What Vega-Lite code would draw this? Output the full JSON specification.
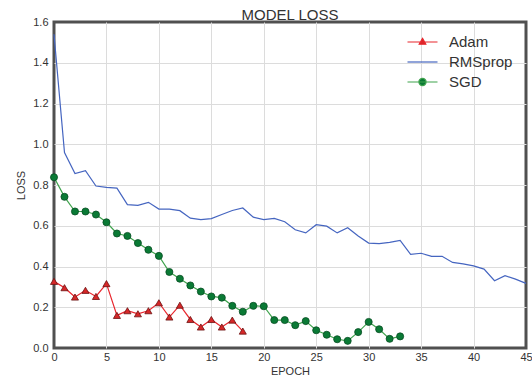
{
  "$schema": "https://vega.github.io/schema/vega-lite/v6.json",
  "width": 472,
  "height": 326,
  "autosize": {"type": "none"},
  "padding": {"left": 54, "top": 22, "right": 6, "bottom": 30},
  "background": "white",
  "view": {"stroke": "#505050", "strokeWidth": 3},
  "title": {"text": "MODEL LOSS", "fontSize": 15, "fontWeight": "normal", "color": "#333333", "font": "Liberation Sans", "offset": -7},
  "config": {
    "axis": {"domain": false, "ticks": false, "gridWidth": 1, "labelColor": "#333333", "labelFontSize": 11, "labelFont": "Liberation Sans", "titleFont": "Liberation Sans", "titleFontSize": 11, "titleFontWeight": "normal", "titleColor": "#333333"}
  },
  "datasets": {
    "loss": [
      {"epoch": 0, "opt": "Adam", "loss": 0.327}, {"epoch": 1, "opt": "Adam", "loss": 0.296}, {"epoch": 2, "opt": "Adam", "loss": 0.25}, {"epoch": 3, "opt": "Adam", "loss": 0.283}, {"epoch": 4, "opt": "Adam", "loss": 0.253}, {"epoch": 5, "opt": "Adam", "loss": 0.316}, {"epoch": 6, "opt": "Adam", "loss": 0.16}, {"epoch": 7, "opt": "Adam", "loss": 0.183}, {"epoch": 8, "opt": "Adam", "loss": 0.168}, {"epoch": 9, "opt": "Adam", "loss": 0.183}, {"epoch": 10, "opt": "Adam", "loss": 0.222}, {"epoch": 11, "opt": "Adam", "loss": 0.152}, {"epoch": 12, "opt": "Adam", "loss": 0.21}, {"epoch": 13, "opt": "Adam", "loss": 0.14}, {"epoch": 14, "opt": "Adam", "loss": 0.103}, {"epoch": 15, "opt": "Adam", "loss": 0.14}, {"epoch": 16, "opt": "Adam", "loss": 0.103}, {"epoch": 17, "opt": "Adam", "loss": 0.137}, {"epoch": 18, "opt": "Adam", "loss": 0.083},
      {"epoch": 0, "opt": "RMSprop", "loss": 1.54}, {"epoch": 1, "opt": "RMSprop", "loss": 0.959}, {"epoch": 2, "opt": "RMSprop", "loss": 0.856}, {"epoch": 3, "opt": "RMSprop", "loss": 0.87}, {"epoch": 4, "opt": "RMSprop", "loss": 0.795}, {"epoch": 5, "opt": "RMSprop", "loss": 0.788}, {"epoch": 6, "opt": "RMSprop", "loss": 0.785}, {"epoch": 7, "opt": "RMSprop", "loss": 0.704}, {"epoch": 8, "opt": "RMSprop", "loss": 0.7}, {"epoch": 9, "opt": "RMSprop", "loss": 0.715}, {"epoch": 10, "opt": "RMSprop", "loss": 0.682}, {"epoch": 11, "opt": "RMSprop", "loss": 0.682}, {"epoch": 12, "opt": "RMSprop", "loss": 0.674}, {"epoch": 13, "opt": "RMSprop", "loss": 0.637}, {"epoch": 14, "opt": "RMSprop", "loss": 0.63}, {"epoch": 15, "opt": "RMSprop", "loss": 0.635}, {"epoch": 16, "opt": "RMSprop", "loss": 0.655}, {"epoch": 17, "opt": "RMSprop", "loss": 0.675}, {"epoch": 18, "opt": "RMSprop", "loss": 0.687}, {"epoch": 19, "opt": "RMSprop", "loss": 0.642}, {"epoch": 20, "opt": "RMSprop", "loss": 0.63}, {"epoch": 21, "opt": "RMSprop", "loss": 0.636}, {"epoch": 22, "opt": "RMSprop", "loss": 0.62}, {"epoch": 23, "opt": "RMSprop", "loss": 0.58}, {"epoch": 24, "opt": "RMSprop", "loss": 0.565}, {"epoch": 25, "opt": "RMSprop", "loss": 0.605}, {"epoch": 26, "opt": "RMSprop", "loss": 0.598}, {"epoch": 27, "opt": "RMSprop", "loss": 0.565}, {"epoch": 28, "opt": "RMSprop", "loss": 0.59}, {"epoch": 29, "opt": "RMSprop", "loss": 0.55}, {"epoch": 30, "opt": "RMSprop", "loss": 0.515}, {"epoch": 31, "opt": "RMSprop", "loss": 0.512}, {"epoch": 32, "opt": "RMSprop", "loss": 0.518}, {"epoch": 33, "opt": "RMSprop", "loss": 0.528}, {"epoch": 34, "opt": "RMSprop", "loss": 0.46}, {"epoch": 35, "opt": "RMSprop", "loss": 0.465}, {"epoch": 36, "opt": "RMSprop", "loss": 0.45}, {"epoch": 37, "opt": "RMSprop", "loss": 0.45}, {"epoch": 38, "opt": "RMSprop", "loss": 0.42}, {"epoch": 39, "opt": "RMSprop", "loss": 0.413}, {"epoch": 40, "opt": "RMSprop", "loss": 0.403}, {"epoch": 41, "opt": "RMSprop", "loss": 0.387}, {"epoch": 42, "opt": "RMSprop", "loss": 0.33}, {"epoch": 43, "opt": "RMSprop", "loss": 0.355}, {"epoch": 44, "opt": "RMSprop", "loss": 0.338}, {"epoch": 45, "opt": "RMSprop", "loss": 0.317},
      {"epoch": 0, "opt": "SGD", "loss": 0.838}, {"epoch": 1, "opt": "SGD", "loss": 0.742}, {"epoch": 2, "opt": "SGD", "loss": 0.67}, {"epoch": 3, "opt": "SGD", "loss": 0.67}, {"epoch": 4, "opt": "SGD", "loss": 0.655}, {"epoch": 5, "opt": "SGD", "loss": 0.617}, {"epoch": 6, "opt": "SGD", "loss": 0.562}, {"epoch": 7, "opt": "SGD", "loss": 0.55}, {"epoch": 8, "opt": "SGD", "loss": 0.515}, {"epoch": 9, "opt": "SGD", "loss": 0.482}, {"epoch": 10, "opt": "SGD", "loss": 0.452}, {"epoch": 11, "opt": "SGD", "loss": 0.373}, {"epoch": 12, "opt": "SGD", "loss": 0.34}, {"epoch": 13, "opt": "SGD", "loss": 0.307}, {"epoch": 14, "opt": "SGD", "loss": 0.277}, {"epoch": 15, "opt": "SGD", "loss": 0.253}, {"epoch": 16, "opt": "SGD", "loss": 0.247}, {"epoch": 17, "opt": "SGD", "loss": 0.207}, {"epoch": 18, "opt": "SGD", "loss": 0.178}, {"epoch": 19, "opt": "SGD", "loss": 0.207}, {"epoch": 20, "opt": "SGD", "loss": 0.205}, {"epoch": 21, "opt": "SGD", "loss": 0.137}, {"epoch": 22, "opt": "SGD", "loss": 0.137}, {"epoch": 23, "opt": "SGD", "loss": 0.112}, {"epoch": 24, "opt": "SGD", "loss": 0.132}, {"epoch": 25, "opt": "SGD", "loss": 0.087}, {"epoch": 26, "opt": "SGD", "loss": 0.065}, {"epoch": 27, "opt": "SGD", "loss": 0.043}, {"epoch": 28, "opt": "SGD", "loss": 0.035}, {"epoch": 29, "opt": "SGD", "loss": 0.078}, {"epoch": 30, "opt": "SGD", "loss": 0.128}, {"epoch": 31, "opt": "SGD", "loss": 0.092}, {"epoch": 32, "opt": "SGD", "loss": 0.045}, {"epoch": 33, "opt": "SGD", "loss": 0.057}
    ]
  },
  "data": {"name": "loss"},
  "encoding": {
    "x": {"field": "epoch", "type": "quantitative", "title": "EPOCH", "scale": {"domain": [0, 45], "nice": false}, "axis": {"values": [0, 5, 10, 15, 20, 25, 30, 35, 40, 45], "labelFlush": false, "labelPadding": 3, "titlePadding": 3, "gridColor": {"condition": {"test": "datum.value <= 0 || datum.value >= 45", "value": "transparent"}, "value": "#dcdcdc"}}},
    "y": {"field": "loss", "type": "quantitative", "title": "LOSS", "scale": {"domain": [0, 1.6], "nice": false}, "axis": {"values": [0, 0.2, 0.4, 0.6, 0.8, 1.0, 1.2, 1.4, 1.6], "format": ".1f", "labelPadding": 6, "titlePadding": 6, "gridColor": {"condition": {"test": "datum.value <= 0 || datum.value >= 1.59", "value": "transparent"}, "value": "#dcdcdc"}}}
  },
  "layer": [
    {
      "mark": {"type": "line", "strokeWidth": 1.2},
      "encoding": {
        "color": {
          "field": "opt", "type": "nominal",
          "scale": {"domain": ["Adam", "RMSprop", "SGD"], "range": ["#e8262d", "#4565c0", "#3fa34d"]},
          "legend": {
            "title": null, "orient": "none", "legendX": 351, "legendY": 12.5,
            "symbolSize": 100, "symbolOffset": 10, "labelOffset": 19, "rowPadding": 4,
            "labelFontSize": 15, "labelFont": "Liberation Sans", "labelColor": "#333333",
            "symbolStrokeWidth": 1.2,
            "encode": {
              "symbols": {
                "update": {
                  "shape": {"signal": "datum.value === 'Adam' ? 'M-3,0H3M0,-0.72L0.66,0.45L-0.66,0.45Z' : datum.value === 'SGD' ? 'M-3,0H3M0.72,0A0.72,0.72 0 1 1 -0.72,0A0.72,0.72 0 1 1 0.72,0Z' : 'M-3,0H3'"},
                  "fill": {"signal": "datum.value === 'Adam' ? '#d62728' : datum.value === 'SGD' ? '#0a7a35' : 'transparent'"},
                  "stroke": {"signal": "datum.value === 'Adam' ? '#e8262d' : datum.value === 'SGD' ? '#3fa34d' : '#4565c0'"},
                  "opacity": {"value": 1},
                  "fillOpacity": {"value": 1}
                }
              }
            }
          }
        }
      }
    },
    {
      "transform": [{"filter": "datum.opt !== 'RMSprop'"}],
      "mark": {"type": "point", "filled": true, "opacity": 1, "strokeWidth": 0.8},
      "encoding": {
        "shape": {"field": "opt", "type": "nominal", "scale": {"domain": ["Adam", "SGD"], "range": ["triangle-up", "circle"]}, "legend": null},
        "fill": {"field": "opt", "type": "nominal", "scale": {"domain": ["Adam", "SGD"], "range": ["#d62728", "#0a7a35"]}, "legend": null},
        "stroke": {"field": "opt", "type": "nominal", "scale": {"domain": ["Adam", "SGD"], "range": ["#6b1212", "#064d22"]}, "legend": null},
        "size": {"value": 50}
      }
    }
  ]
}
